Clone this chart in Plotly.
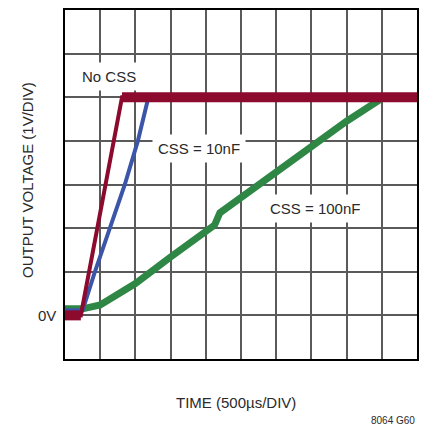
import plotly.graph_objects as go

# time in divisions (500us/div), voltage in volts (1V/div)
t_no_css = [0, 0.45, 1.62, 10]
v_no_css = [0, 0, 5, 5]

t_css10 = [0, 0.5, 0.85, 1.28, 1.70, 2.07, 2.37, 10]
v_css10 = [0.12, 0.12, 1, 2, 3, 4, 5, 5]

t_css100 = [0, 0.5, 1, 1.5, 2, 3, 4, 4.25, 4.4, 5, 6, 7, 8, 9.05, 10]
v_css100 = [0.15, 0.15, 0.24, 0.47, 0.73, 1.34, 1.95, 2.07, 2.35, 2.7, 3.27, 3.9, 4.45, 5, 5]

RED = "#8c0a2e"
BLUE = "#3b55a8"
GREEN = "#2f8745"
FONT = "Liberation Sans, Arial"
TXT = "#2a2a2a"

fig = go.Figure()

fig.add_trace(go.Scatter(x=t_css100, y=v_css100, mode="lines",
                         line=dict(color=GREEN, width=7)))
fig.add_trace(go.Scatter(x=t_css10, y=v_css10, mode="lines",
                         line=dict(color=BLUE, width=4)))
fig.add_trace(go.Scatter(x=t_no_css, y=v_no_css, mode="lines",
                         line=dict(color=RED, width=4)))
## thick flat parts of the no-css trace (noise band)
fig.add_trace(go.Scatter(x=t_no_css[:2], y=v_no_css[:2], mode="lines",
                         line=dict(color=RED, width=10)))
fig.add_trace(go.Scatter(x=t_no_css[2:], y=v_no_css[2:], mode="lines",
                         line=dict(color=RED, width=10)))

axis_style = dict(
    showgrid=True, gridcolor="#5a5a5a", gridwidth=1.5,
    showline=True, linecolor="black", linewidth=2, mirror=True,
    showticklabels=False, ticks="", zeroline=False, dtick=1,
)
fig.update_xaxes(range=[0, 10], **axis_style)
fig.update_yaxes(range=[-1, 7], **axis_style)

labels = [
    ("No CSS", 0.31, 5.48),
    ("CSS = 10nF", 2.47, 3.82),
    ("CSS = 100nF", 5.65, 2.46),
]
for text, x, y in labels:
    fig.add_annotation(x=x, y=y, text=text, showarrow=False, xanchor="left",
                       yanchor="middle", bgcolor="white", borderpad=5,
                       font=dict(size=15, color=TXT))

fig.add_annotation(x=-0.02, y=0, xref="paper", yref="y", text="0V",
                   showarrow=False, xanchor="right", yanchor="middle",
                   font=dict(size=15, color=TXT))
fig.add_annotation(x=-0.105, y=0.513, xref="paper", yref="paper",
                   text="OUTPUT VOLTAGE (1V/DIV)", textangle=-90,
                   showarrow=False, xanchor="center", yanchor="middle",
                   font=dict(size=15, color=TXT))
fig.add_annotation(x=0.487, y=-0.125, xref="paper", yref="paper",
                   text="TIME (500µs/DIV)", showarrow=False,
                   xanchor="center", yanchor="middle",
                   font=dict(size=15, color=TXT))
fig.add_annotation(x=1.0, y=-0.177, xref="paper", yref="paper",
                   text="8064 G60", showarrow=False,
                   xanchor="right", yanchor="middle",
                   font=dict(size=10, color=TXT))

## page body adds an 8px margin, so the figure is shrunk to fit the window
fig.update_layout(
    width=427, height=421,
    showlegend=False,
    plot_bgcolor="white", paper_bgcolor="white",
    margin={"l": 57, "r": 18, "t": 0, "b": 70},
    font=dict(family=FONT, size=15, color=TXT),
)

fig.write_html("out.html")
